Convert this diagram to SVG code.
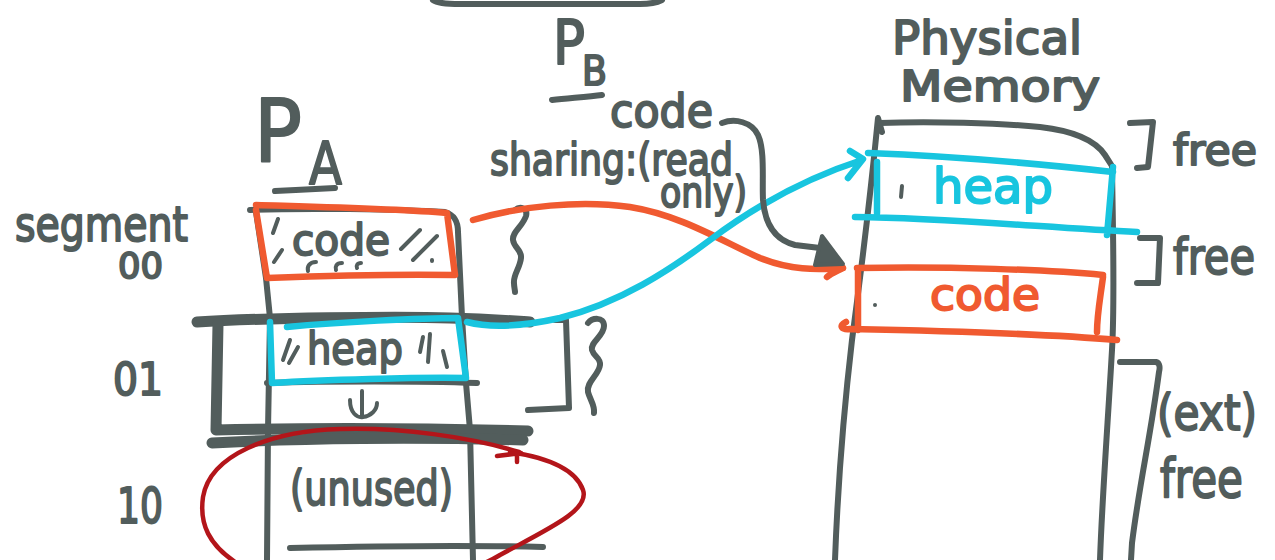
<svg xmlns="http://www.w3.org/2000/svg" width="1275" height="560" viewBox="0 0 1275 560">
  <style>
    .pen { fill: none; stroke: #525d5c; stroke-width: 6; stroke-linecap: round; stroke-linejoin: round; }
    .heavy { stroke-width: 11; }
    .thin { stroke-width: 4; }
    .orange { fill: none; stroke: #f05a30; stroke-width: 6.5; stroke-linecap: round; stroke-linejoin: round; }
    .cyan { fill: none; stroke: #18c5df; stroke-width: 6.5; stroke-linecap: round; stroke-linejoin: round; }
    .red { fill: none; stroke: #b3151a; stroke-width: 4.5; stroke-linecap: round; stroke-linejoin: round; }
    .txt { font-family: "DejaVu Sans", "Liberation Sans", sans-serif; fill: #525d5c; stroke: #525d5c; stroke-width: 2; stroke-linejoin: round; }
    .txt-cyan { font-family: "DejaVu Sans", "Liberation Sans", sans-serif; fill: #18c5df; stroke: #18c5df; stroke-width: 2; stroke-linejoin: round; }
    .txt-orange { font-family: "DejaVu Sans", "Liberation Sans", sans-serif; fill: #f05a30; stroke: #f05a30; stroke-width: 2; stroke-linejoin: round; }
  </style>
  <rect width="1275" height="560" fill="#ffffff"/>

  <!-- edge of a shape above the frame -->
  <path class="pen" d="M433,0 C437,3 445,4 460,4 L640,4 C652,4 658,2 662,0"/>

  <!-- segment numbers -->
  <g id="segment-labels">
    <text class="txt" x="15" y="241" font-size="48" textLength="173" lengthAdjust="spacingAndGlyphs">segment</text>
    <text class="txt" x="118" y="278" font-size="36" textLength="45" lengthAdjust="spacingAndGlyphs">00</text>
    <text class="txt" x="113" y="395" font-size="44" textLength="50" lengthAdjust="spacingAndGlyphs">01</text>
    <text class="txt" x="117" y="523" font-size="49" textLength="46" lengthAdjust="spacingAndGlyphs">10</text>
  </g>

  <!-- process A address space -->
  <g id="process-a">
    <text class="txt" x="254" y="162" font-size="88" textLength="48" lengthAdjust="spacingAndGlyphs">P</text>
    <text class="txt" x="309" y="184" font-size="58" textLength="33" lengthAdjust="spacingAndGlyphs">A</text>
    <path class="pen" d="M275,191 C295,190 318,189 335,188"/>

    <!-- column outline -->
    <path class="pen" d="M250,210 C300,208 400,209 445,212 C455,215 458,222 458,232 L462,317"/>
    <path class="pen" d="M256,212 L266,278 L270,318 L268,430 L267,560"/>
    <path class="pen" d="M462,317 L466,383 L470,430 L473,560"/>
    <path class="pen" d="M267,383 C330,381 420,381 477,383"/>
    <path class="pen" d="M290,548 C380,546 470,545 543,547"/>

    <!-- code segment -->
    <g id="pa-code">
      <path class="orange" d="M256,205 C320,207 400,209 447,213 L455,275 C400,274 320,276 267,278 L256,210"/>
      <text class="txt" x="292" y="255" font-size="42" textLength="98" lengthAdjust="spacingAndGlyphs">code</text>
      <path class="pen thin" d="M278,219 L273,233 M282,250 L274,262 M420,230 L401,249 M437,236 L413,260 M432,260 L432,261"/>
      <path class="pen thin" d="M316,262 C309,262 307,267 308,271 M342,263 C336,263 335,267 336,270 M361,263 C357,263 356,266 357,268"/>
    </g>

    <!-- heap segment -->
    <g id="pa-heap">
      <path class="pen heavy" d="M197,322 C260,318 400,316 450,318 C490,319 515,321 530,322"/>
      <path class="pen heavy" d="M218,324 L216,430 C300,428 420,428 528,431"/>
      <path class="pen heavy" d="M212,443 C300,438 420,437 523,440"/>
      <path class="pen" d="M555,320 L566,320 L569,408 L528,410"/>
      <path class="pen" d="M588,323 C592,318 604,316 604,326 C604,336 590,342 592,350 C594,357 601,358 600,365 C599,375 586,382 588,392 C590,400 595,405 594,413"/>
      <path class="cyan" d="M287,327 C340,322 420,318 458,318 L466,378 C420,377 320,380 272,383 L270,322"/>
      <text class="txt" x="307" y="364" font-size="44" textLength="96" lengthAdjust="spacingAndGlyphs">heap</text>
      <path class="pen thin" d="M290,340 L283,360 M298,347 L289,363 M423,337 L420,352 M430,334 L428,362 M443,351 L447,367"/>
      <path class="pen thin" d="M362,391 L362,415 M350,400 C350,413 357,418 363,417 C371,416 377,410 377,403"/>
    </g>

    <!-- brace beside the code segment -->
    <path class="pen" d="M515,210 C520,206 528,208 526,216 C523,226 512,232 513,240 C514,248 522,250 521,258 C520,268 513,275 514,283 C514,287 515,290 515,292"/>

    <!-- unused segment -->
    <g id="pa-unused">
      <text class="txt" x="290" y="505" font-size="48" textLength="163" lengthAdjust="spacingAndGlyphs">(unused)</text>
      <path class="red" d="M519,452 C470,437 400,427 340,429 C270,431 210,455 203,497 C199,525 210,545 235,562 C290,595 440,592 500,555 C550,528 590,510 583,490 C576,470 550,458 510,452"/>
      <path class="red" d="M497,456 L521,453 M517,453 L517,462"/>
    </g>
  </g>

  <!-- process B label and note -->
  <g id="process-b">
    <text class="txt" x="553" y="64" font-size="60" textLength="32" lengthAdjust="spacingAndGlyphs">P</text>
    <text class="txt" x="582" y="85" font-size="40" textLength="25" lengthAdjust="spacingAndGlyphs">B</text>
    <path class="pen" d="M552,100 C570,98 588,97 602,95"/>
    <text class="txt" x="610" y="127" font-size="46" textLength="103" lengthAdjust="spacingAndGlyphs">code</text>
    <text class="txt" x="490" y="175" font-size="44" textLength="243" lengthAdjust="spacingAndGlyphs">sharing:(read</text>
    <text class="txt" x="660" y="207" font-size="42" textLength="87" lengthAdjust="spacingAndGlyphs">only)</text>
  </g>

  <!-- physical memory -->
  <g id="physical-memory">
    <text class="txt" x="892" y="54" font-size="46" textLength="190" lengthAdjust="spacingAndGlyphs">Physical</text>
    <text class="txt" x="900" y="101" font-size="42" textLength="200" lengthAdjust="spacingAndGlyphs">Memory</text>
    <path class="pen" d="M882,132 L878,118 C870,200 860,280 852,340 C845,400 838,480 835,560"/>
    <path class="pen" d="M880,123 C930,121 1000,123 1040,127 C1075,131 1095,140 1105,155 L1112,166 C1113,240 1115,300 1112,350 C1108,420 1102,500 1100,560"/>

    <g id="pm-heap">
      <path class="cyan" d="M868,153 C950,156 1050,165 1113,172 M877,162 L877,213 M855,217 C950,218 1050,228 1137,232 M1113,167 L1107,235"/>
      <text class="txt-cyan" x="933" y="203" font-size="48" textLength="120" lengthAdjust="spacingAndGlyphs">heap</text>
      <path class="pen thin" d="M902,186 L901,197"/>
    </g>

    <g id="pm-code">
      <path class="orange" d="M857,268 C950,266 1050,270 1103,275 M858,270 L858,330 M846,322 C838,326 842,330 850,329 C950,331 1050,334 1117,340 M1103,277 C1100,300 1097,315 1097,332"/>
      <text class="txt-orange" x="930" y="310" font-size="44" textLength="110" lengthAdjust="spacingAndGlyphs">code</text>
      <circle cx="875" cy="305" r="2" fill="#525d5c"/>
    </g>

    <g id="free-labels">
      <path class="pen" d="M1130,123 L1153,122 L1148,167 L1137,168"/>
      <text class="txt" x="1173" y="165" font-size="42" textLength="84" lengthAdjust="spacingAndGlyphs">free</text>
      <path class="pen" d="M1140,238 L1160,238 L1158,283 L1137,283"/>
      <text class="txt" x="1173" y="274" font-size="50" textLength="82" lengthAdjust="spacingAndGlyphs">free</text>
      <path class="pen" d="M1120,362 L1156,362 C1160,363 1160,368 1159,372 C1150,440 1140,480 1132,543 L1131,560"/>
      <text class="txt" x="1157" y="430" font-size="50" textLength="100" lengthAdjust="spacingAndGlyphs">(ext)</text>
      <text class="txt" x="1160" y="497" font-size="54" textLength="83" lengthAdjust="spacingAndGlyphs">free</text>
    </g>
  </g>

  <!-- mappings from process A segments into physical memory -->
  <g id="connectors">
    <path class="orange" d="M473,220 C520,206 580,200 630,207 C680,215 720,240 760,258 C790,270 815,270 843,268 M843,268 C835,272 830,274 827,277"/>
    <path class="cyan" d="M467,322 C490,328 520,327 560,318 C620,303 670,270 710,240 C750,210 800,180 862,160 M850,151 L863,159 L848,178"/>
    <path class="pen" d="M722,123 C735,118 752,122 758,135 C765,150 762,180 763,200 C765,225 775,240 795,245 L820,248"/>
    <path d="M822,236 L815,265 L843,264 Z" fill="#525d5c" stroke="#525d5c" stroke-width="4" stroke-linejoin="round"/>
  </g>
</svg>
